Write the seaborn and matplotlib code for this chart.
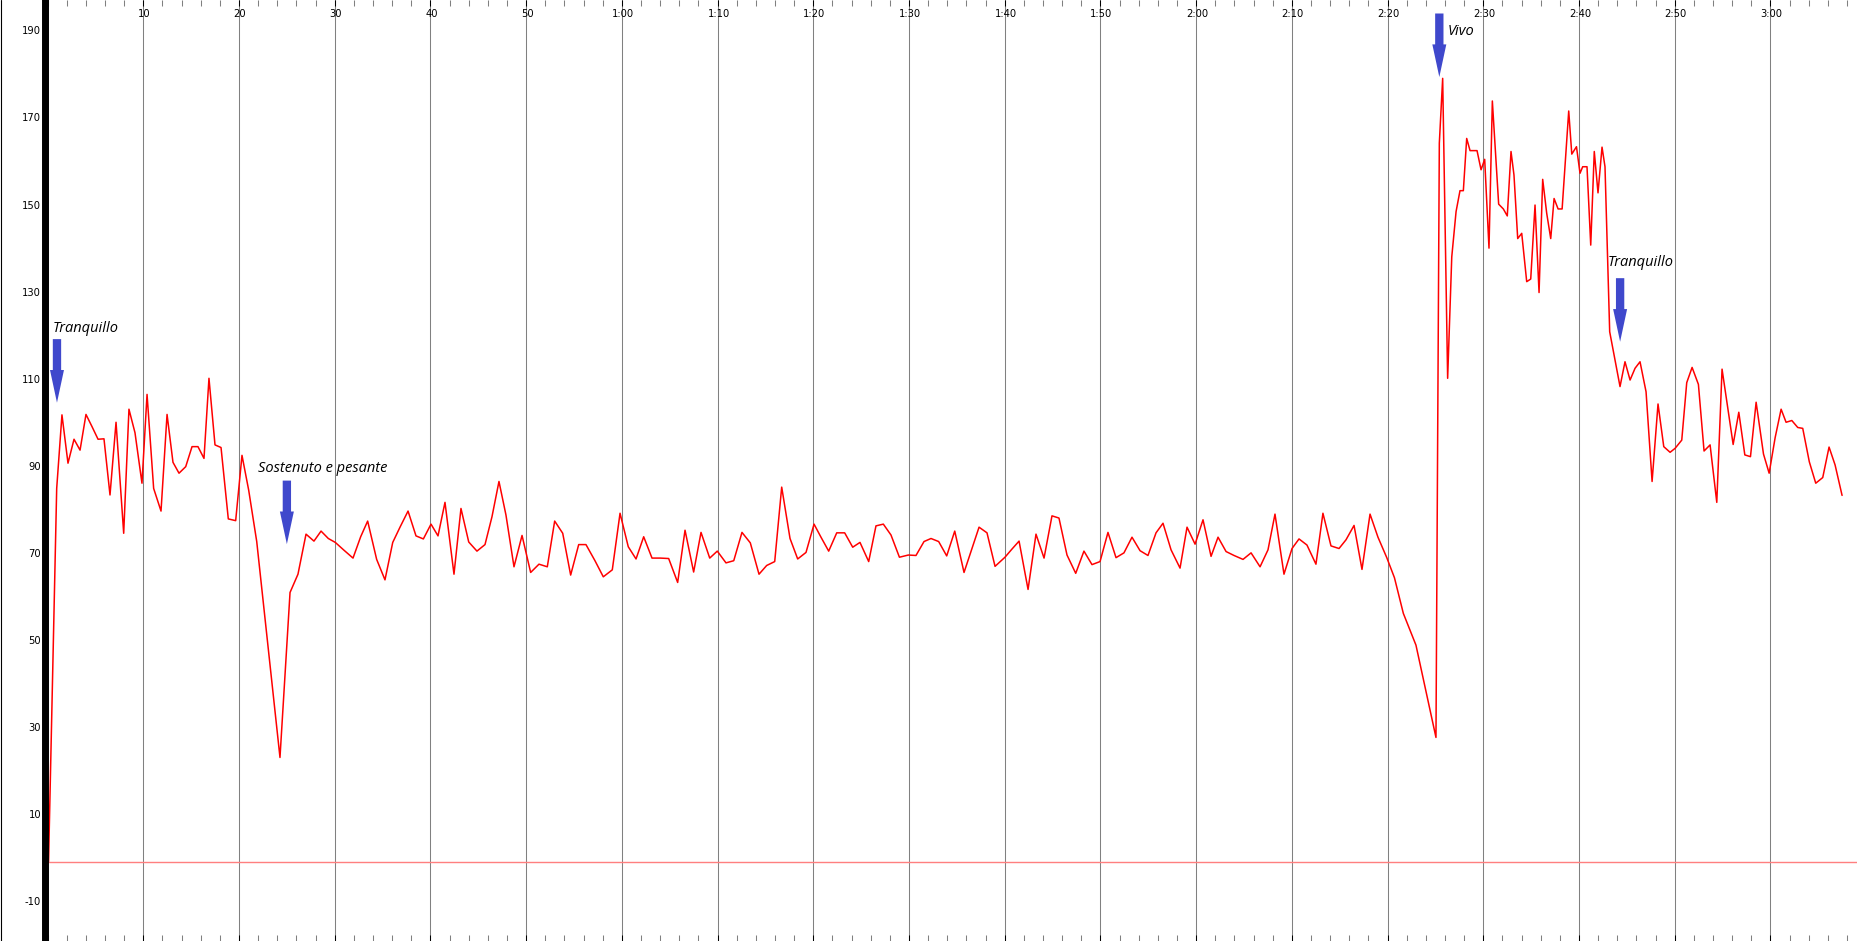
import numpy as np
import pandas as pd
import seaborn as sns
import matplotlib.pyplot as plt
from matplotlib.patches import FancyArrow
from matplotlib.lines import Line2D
from matplotlib.ticker import MultipleLocator

# beat times (seconds) and tempo (bpm)
times = [
    0.1, 0.95, 1.50, 2.13, 2.76, 3.39, 4.01, 4.64, 5.27, 5.89,
    6.52, 7.15, 7.95, 8.50, 9.13, 9.86, 10.39, 11.08, 11.85, 12.48,
    13.10, 13.73, 14.43, 15.09, 15.71, 16.34, 16.86, 17.49, 18.12, 18.88,
    19.65, 20.31, 21.01, 21.85, 24.28, 25.33, 26.16, 27.00, 27.83, 28.57,
    29.33, 30.06, 30.97, 31.91, 32.71, 33.44, 34.38, 35.25, 36.06, 36.82,
    37.66, 38.49, 39.26, 40.06, 40.79, 41.52, 42.46, 43.19, 44.00, 44.86,
    45.70, 46.43, 47.16, 47.89, 48.73, 49.57, 50.47, 51.34, 52.21, 52.98,
    53.82, 54.65, 55.49, 56.25, 57.19, 58.06, 59.00, 59.81, 60.67, 61.48,
    62.28, 63.15, 64.02, 64.89, 65.83, 66.60, 67.50, 68.27, 69.18, 69.97,
    70.88, 71.69, 72.55, 73.42, 74.33, 75.13, 75.97, 76.70, 77.57, 78.37,
    79.24, 80.08, 80.78, 81.61, 82.45, 83.28, 84.12, 84.88, 85.79, 86.55,
    87.32, 88.12, 89.00, 89.93, 90.73, 91.57, 92.30, 93.10, 93.94, 94.78,
    95.75, 97.32, 98.15, 98.99, 100.03, 100.73, 101.50, 102.44, 103.27, 104.11,
    104.94, 105.67, 106.51, 107.42, 108.28, 109.12, 109.96, 110.79, 111.63, 112.46,
    113.30, 114.14, 114.97, 115.81, 116.54, 117.38, 118.32, 119.05, 119.89, 120.72,
    121.56, 122.29, 123.13, 123.96, 124.90, 125.74, 126.68, 127.51, 128.24, 129.18,
    130.02, 130.75, 131.58, 132.52, 133.25, 134.09, 134.93, 135.66, 136.50, 137.33,
    138.17, 139.00, 139.92, 140.72, 141.65, 142.97, 145.06, 145.41, 145.76, 146.28,
    146.71, 147.16, 147.57, 147.92, 148.27, 148.62, 149.35, 149.77, 150.15, 150.60,
    150.95, 151.61, 152.10, 152.51, 152.90, 153.21, 153.60, 154.02, 154.54, 154.96,
    155.41, 155.83, 156.21, 156.63, 157.05, 157.40, 157.82, 158.24, 158.93, 159.25,
    159.74, 160.11, 160.39, 160.84, 161.23, 161.60, 161.99, 162.41, 162.72, 163.21,
    164.29, 164.81, 165.34, 165.86, 166.38, 167.01, 167.64, 168.26, 168.86, 169.52,
    170.04, 170.74, 171.26, 171.82, 172.48, 173.07, 173.70, 174.40, 174.95, 176.11,
    176.70, 177.33, 177.92, 178.51, 179.28, 179.87, 180.50, 181.12, 181.64, 182.24,
    182.86, 183.38, 184.07, 184.74, 185.47, 186.13, 186.76, 187.49,
]
bpm = [
    0, 85.7, 102.6, 91.5, 97.0, 94.5, 102.7, 99.9, 97.0, 97.1,
    84.2, 100.9, 75.4, 103.9, 98.5, 86.9, 107.3, 85.7, 80.5, 102.7,
    91.7, 89.2, 90.7, 95.3, 95.3, 92.6, 111.0, 95.7, 95.1, 78.7,
    78.3, 93.3, 85.3, 73.5, 23.9, 61.8, 66.0, 75.2, 73.6, 75.9,
    74.2, 73.3, 71.5, 69.7, 74.6, 78.2, 69.4, 64.7, 73.3, 76.8,
    80.5, 74.8, 74.1, 77.5, 74.8, 82.5, 66.0, 81.1, 73.4, 71.3,
    72.8, 79.2, 87.3, 79.6, 67.7, 74.9, 66.4, 68.3, 67.7, 78.2,
    75.4, 65.8, 72.8, 72.8, 69.1, 65.4, 67.0, 80.0, 72.3, 69.5,
    74.6, 69.7, 69.7, 69.6, 64.1, 76.1, 66.5, 75.6, 69.7, 71.3,
    68.6, 69.1, 75.6, 73.2, 66.0, 68.0, 68.9, 86.0, 74.2, 69.5,
    71.0, 77.5, 74.6, 71.3, 75.5, 75.5, 72.2, 73.3, 68.9, 77.1,
    77.5, 75.0, 69.9, 70.4, 70.3, 73.5, 74.2, 73.5, 70.2, 75.9,
    66.4, 76.8, 75.5, 67.8, 69.9, 71.7, 73.6, 62.5, 75.2, 69.7,
    79.4, 78.9, 70.4, 66.2, 71.3, 68.2, 68.9, 75.6, 69.8, 70.9,
    74.5, 71.4, 70.3, 75.5, 77.7, 71.6, 67.4, 76.8, 72.9, 78.5,
    70.1, 74.5, 71.2, 70.3, 69.4, 70.9, 67.7, 71.6, 79.8, 66.0,
    71.9, 74.1, 72.7, 68.3, 80.0, 72.5, 71.9, 73.9, 77.2, 67.1,
    79.8, 74.5, 69.8, 65.2, 57.0, 49.7, 28.5, 165.0, 179.9, 111.0,
    138.9, 149.3, 154.1, 154.1, 166.1, 163.3, 163.3, 158.9, 161.3, 140.9,
    174.7, 151.0, 149.9, 148.3, 163.1, 157.7, 143.1, 144.3, 133.2, 133.8,
    150.8, 130.7, 156.7, 148.9, 143.1, 152.3, 149.9, 149.9, 172.4, 162.5,
    164.2, 158.1, 159.6, 159.6, 141.6, 163.1, 153.6, 164.1, 159.6, 121.7,
    109.1, 114.8, 110.6, 113.3, 114.8, 107.9, 87.3, 105.1, 95.3, 94.0,
    94.9, 96.8, 110.0, 113.5, 109.6, 94.3, 95.7, 82.5, 113.1, 95.8,
    103.2, 93.4, 93.0, 105.5, 93.6, 89.2, 97.4, 103.9, 100.9, 101.3,
    99.7, 99.5, 91.8, 86.9, 88.2, 95.2, 91.1, 84.1,
]

# time axis labels along the top
x_ticks = list(range(10, 190, 10))
x_labels = ["10", "20", "30", "40", "50", "1:00", "1:10", "1:20", "1:30",
            "1:40", "1:50", "2:00", "2:10", "2:20", "2:30", "2:40", "2:50", "3:00"]
y_ticks = list(range(-10, 200, 20))

# tempo markings: label, arrow time, arrow tip bpm, text time, text bpm
marks = ["Tranquillo", "Sostenuto e pesante", "Vivo", "Tranquillo"]
mark_t = [0.98, 25.0, 145.41, 164.3]
mark_tip = [105.4, 72.9, 180.2, 119.4]
text_t = [0.53, 21.98, 146.3, 163.04]
text_v = [121.6, 89.5, 189.9, 136.7]

df = pd.DataFrame({"time": times, "bpm": bpm})

sns.set_style("white")
plt.rcParams["font.family"] = ["DejaVu Sans"]

W, H = 1857, 941
fig = plt.figure(figsize=(W / 100, H / 100), dpi=100)
ax = fig.add_axes([44.5 / W, 0, 1 - 44.5 / W, 1])

ax.grid(axis="x", color="#808080", lw=0.75, zorder=0)
ax.axhline(0, color="#FF7F7F", lw=1.0, zorder=1)
sns.lineplot(data=df, x="time", y="bpm", color="#FF0000", lw=1.1,
             sort=False, estimator=None, ax=ax, zorder=3)

ax.set_xlim(-0.324, 189.05)
ax.set_ylim(-18.26, 197.9)
ax.set_xlabel("")
ax.set_ylabel("")

for side in ["top", "right", "bottom"]:
    ax.spines[side].set_visible(False)
ax.spines["left"].set_color("black")
ax.spines["left"].set_linewidth(5.0)
ax.spines["left"].set_zorder(5)

ax.xaxis.set_major_locator(MultipleLocator(10))
ax.xaxis.set_minor_locator(MultipleLocator(2))
ax.tick_params(axis="x", which="major", direction="in", length=4, width=0.75,
               color="black", top=True, bottom=True, labelbottom=False, labeltop=False)
ax.tick_params(axis="x", which="minor", direction="in", length=4.1, width=0.75,
               color="#808080", top=True, bottom=True)

ax.set_yticks(y_ticks)
ax.set_yticklabels([str(v) for v in y_ticks])
ax.tick_params(axis="y", direction="in", length=3.6, width=0.75, color="black",
               pad=2.5, labelsize=7.2, labelcolor="black")
for lbl in ax.get_yticklabels():
    lbl.set_verticalalignment("baseline")

top_tf = ax.get_xaxis_transform()
for t, lab in zip(x_ticks, x_labels):
    ax.text(t + 0.1, 1 - 16.7 / H, lab, transform=top_tf, ha="center",
            va="baseline", fontsize=7.2, color="black")

for lab, t, tip, tx, tv in zip(marks, mark_t, mark_tip, text_t, text_v):
    ax.add_patch(FancyArrow(t, tip + 14.6, 0, -14.6, width=0.87, head_width=1.46,
                            head_length=7.5, length_includes_head=True,
                            color="#3F48CC", lw=0, zorder=4))
    ax.text(tx, tv, lab, fontsize=10.5, style="italic", family=["Open Sans", "DejaVu Sans"],
            color="black", ha="left", va="baseline", zorder=4)

fig.add_artist(Line2D([0.5 / W, 0.5 / W], [0, 1], transform=fig.transFigure,
                      color="black", lw=0.8))

fig.savefig("out.png", dpi=100)
